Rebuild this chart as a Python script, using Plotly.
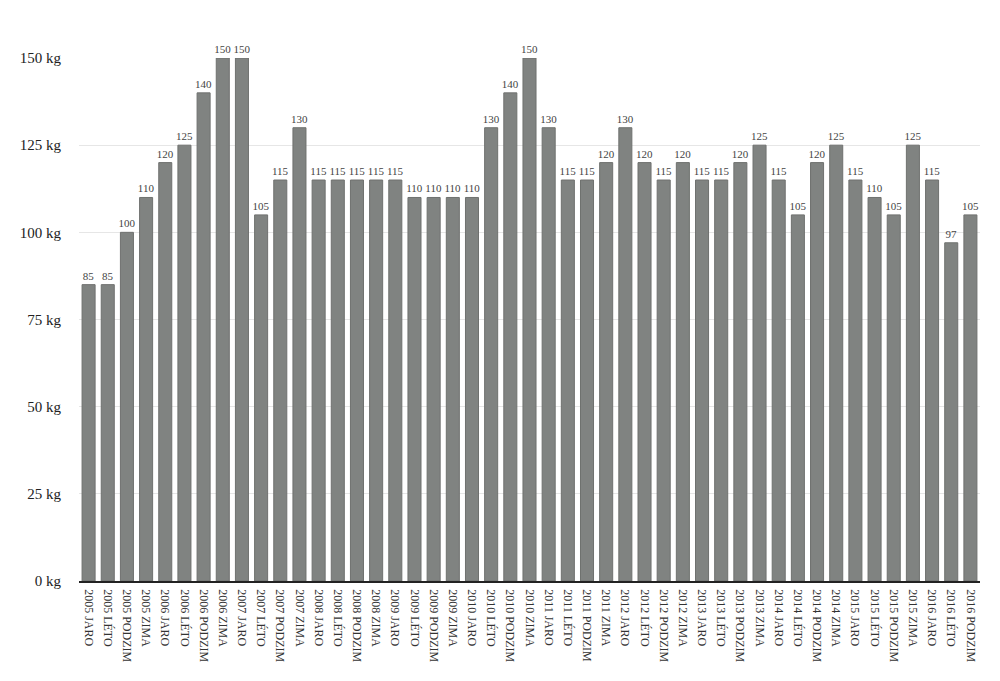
import plotly.graph_objects as go

categories = [
    "2005 JARO", "2005 LÉTO", "2005 PODZIM", "2005 ZIMA",
    "2006 JARO", "2006 LÉTO", "2006 PODZIM", "2006 ZIMA",
    "2007 JARO", "2007 LÉTO", "2007 PODZIM", "2007 ZIMA",
    "2008 JARO", "2008 LÉTO", "2008 PODZIM", "2008 ZIMA",
    "2009 JARO", "2009 LÉTO", "2009 PODZIM", "2009 ZIMA",
    "2010 JARO", "2010 LÉTO", "2010 PODZIM", "2010 ZIMA",
    "2011 JARO", "2011 LÉTO", "2011 PODZIM", "2011 ZIMA",
    "2012 JARO", "2012 LÉTO", "2012 PODZIM", "2012 ZIMA",
    "2013 JARO", "2013 LÉTO", "2013 PODZIM", "2013 ZIMA",
    "2014 JARO", "2014 LÉTO", "2014 PODZIM", "2014 ZIMA",
    "2015 JARO", "2015 LÉTO", "2015 PODZIM", "2015 ZIMA",
    "2016 JARO", "2016 LÉTO", "2016 PODZIM",
]
values = [
    85, 85, 100, 110,
    120, 125, 140, 150,
    150, 105, 115, 130,
    115, 115, 115, 115,
    115, 110, 110, 110,
    110, 130, 140, 150,
    130, 115, 115, 120,
    130, 120, 115, 120,
    115, 115, 120, 125,
    115, 105, 120, 125,
    115, 110, 105, 125,
    115, 97, 105,
]
y_ticks = [0, 25, 50, 75, 100, 125, 150]
y_tick_labels = [f"{v} kg" for v in y_ticks]

FONT = "Liberation Serif"

fig = go.Figure(go.Bar(
    x=categories,
    y=values,
    text=[str(v) for v in values],
    textposition="outside",
    constraintext="none",
    textfont=dict(family=FONT, size=11, color="#444444"),
    cliponaxis=False,
    marker=dict(color="#808381", line=dict(color="#6f716f", width=1)),
))

fig.update_layout(
    width=1000, height=681,
    margin=dict(l=66, r=28, t=50, b=108),
    paper_bgcolor="white", plot_bgcolor="white",
    bargap=0.32,
    showlegend=False,
    font=dict(family=FONT, color="#222222"),
    uniformtext=dict(mode=False),
)
fig.update_xaxes(
    type="category",
    tickangle=90,
    tickfont=dict(family=FONT, size=12, color="#333333"),
    showline=True, linecolor="#222222", linewidth=1.5,
    showgrid=False,
    ticks="", ticklabelstandoff=4,
)
fig.update_yaxes(
    range=[0, 150],
    tickvals=y_ticks, ticktext=y_tick_labels,
    tickfont=dict(family=FONT, size=15, color="#222222"),
    showgrid=True, gridcolor="#e6e6e6", gridwidth=1,
    zeroline=False, showline=False,
    ticks="", ticklabelstandoff=17,
)

fig.write_html("out.html")
